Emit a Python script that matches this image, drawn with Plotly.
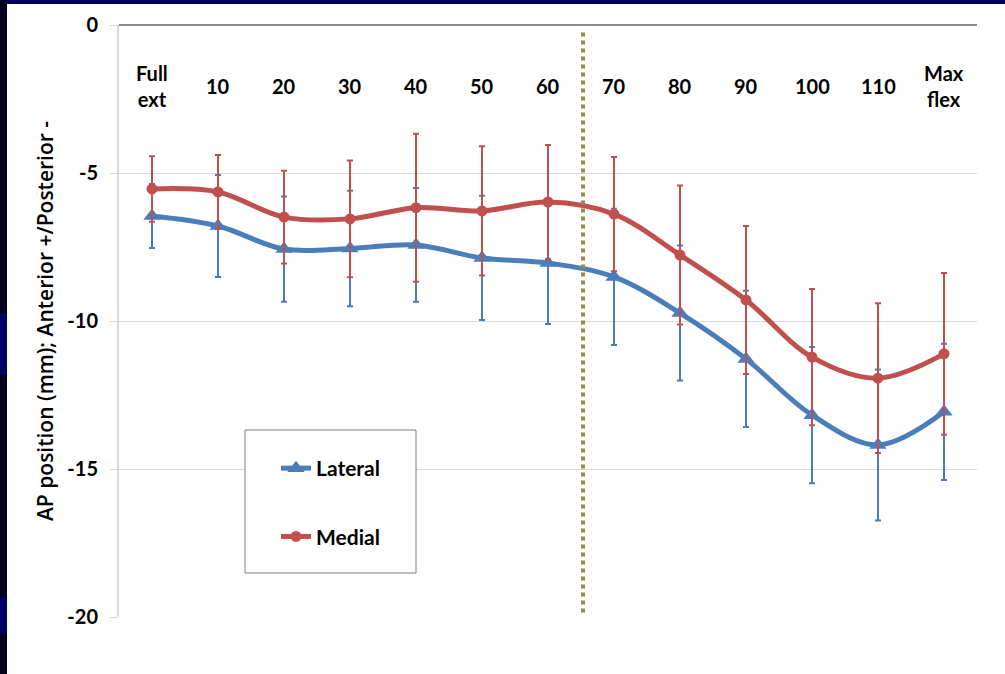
import plotly.graph_objects as go

# Knee flexion stages (category axis)
categories = ["Full<br>ext", "10", "20", "30", "40", "50", "60",
              "70", "80", "90", "100", "110", "Max<br>flex"]

# Mean AP position (mm) and standard deviation per stage
lateral = [-6.45, -6.79, -7.57, -7.55, -7.43, -7.87, -8.04,
           -8.51, -9.73, -11.28, -13.18, -14.19, -13.07]
lateral_sd = [1.08, 1.72, 1.78, 1.95, 1.92, 2.10, 2.06,
              2.30, 2.28, 2.30, 2.30, 2.55, 2.30]
medial = [-5.54, -5.64, -6.49, -6.55, -6.17, -6.28, -5.98,
          -6.39, -7.77, -9.29, -11.22, -11.93, -11.11]
medial_sd = [1.11, 1.25, 1.57, 1.97, 2.50, 2.18, 1.93,
             1.93, 2.35, 2.50, 2.30, 2.53, 2.73]

y_ticks = [0, -5, -10, -15, -20]
y_range = [-20, 0]
divider_x = 6.53          # dotted separator between 60 and 70
label_y = -2.06           # vertical centre of the stage labels

BLUE = "#4A7EBB"
RED = "#C0504D"
FONT = "Lato"

fig = go.Figure()

fig.add_trace(go.Scatter(
    x=categories, y=lateral, name="Lateral", mode="lines+markers",
    legendgroup="lat",
    line=dict(color=BLUE, width=5, shape="spline", smoothing=1.0),
    marker=dict(symbol="triangle-up", size=15, color=BLUE),
    error_y=dict(type="data", array=lateral_sd, color=BLUE, thickness=2, width=3),
))
fig.add_trace(go.Scatter(
    x=categories, y=medial, name="Medial", mode="lines+markers",
    legendgroup="med",
    line=dict(color=RED, width=5, shape="spline", smoothing=1.0),
    marker=dict(symbol="circle", size=11, color=RED),
    error_y=dict(type="data", array=medial_sd, color=RED, thickness=2, width=3),
))

# Stage labels drawn just under the zero line (placed by category index)
for i, cat in enumerate(categories):
    fig.add_annotation(
        x=i, y=label_y, xref="x", yref="y", text=cat, showarrow=False,
        xanchor="center", yanchor="middle", align="center",
        font=dict(family=FONT, size=20, color="black", weight="bold"),
    )

# Page frame strips (slide background)
def px_x(p):
    return (p - 119) / 858

def px_y(p):
    return (617 - p) / 592

shapes = [
    dict(type="rect", xref="paper", yref="paper", x0=px_x(-5), x1=px_x(1010),
         y0=px_y(4), y1=px_y(-5), fillcolor="#00005E", line=dict(width=0)),
    dict(type="rect", xref="paper", yref="paper", x0=px_x(-5), x1=px_x(7),
         y0=px_y(680), y1=px_y(-5), fillcolor="#00001E", line=dict(width=0)),
    dict(type="rect", xref="paper", yref="paper", x0=px_x(-5), x1=px_x(7),
         y0=px_y(375), y1=px_y(313), fillcolor="#000064", line=dict(width=0)),
    dict(type="rect", xref="paper", yref="paper", x0=px_x(-5), x1=px_x(7),
         y0=px_y(633), y1=px_y(597), fillcolor="#000064", line=dict(width=0)),
    # legend frame
    dict(type="rect", xref="paper", yref="paper", x0=px_x(245), x1=px_x(416),
         y0=px_y(573), y1=px_y(430), fillcolor="white",
         line=dict(color="#7F7F7F", width=1), layer="above"),
    # dotted separator
    dict(type="line", xref="x", yref="y", x0=divider_x, x1=divider_x,
         y0=-0.25, y1=-19.85, line=dict(color="#948A54", width=4, dash="dot"),
         layer="above"),
]

fig.update_layout(
    width=1005, height=674,
    margin=dict(l=119, r=28, t=25, b=57),
    paper_bgcolor="white", plot_bgcolor="white",
    font=dict(family=FONT, color="black"),
    shapes=shapes,
    showlegend=True,
    legend=dict(
        x=px_x(276), y=px_y(448), xanchor="left", yanchor="top",
        bgcolor="rgba(0,0,0,0)", borderwidth=0,
        traceorder="grouped", tracegroupgap=38,
        font=dict(family=FONT, size=21, color="black", weight="bold"),
    ),
    xaxis=dict(
        type="category", range=[-0.5, 12.5],
        showticklabels=False, showgrid=False, zeroline=False,
        showline=False, ticks="",
    ),
    yaxis=dict(
        range=y_range, tickvals=y_ticks, ticktext=[str(v) for v in y_ticks],
        ticks="outside", ticklen=7, tickcolor="#D9D9D9", tickwidth=1,
        showgrid=True, gridcolor="#D9D9D9", gridwidth=1,
        showline=True, linecolor="#D9D9D9", linewidth=2,
        zeroline=True, zerolinecolor="#8A8A8A", zerolinewidth=2,
        ticklabelstandoff=8,
        tickfont=dict(family=FONT, size=20, color="black", weight="bold"),
        title=dict(text="AP position (mm); Anterior +/Posterior -",
                   font=dict(family="Open Sans", size=21, color="black",
                             weight=600),
                   standoff=8),
    ),
)

fig.write_html("out.html")
